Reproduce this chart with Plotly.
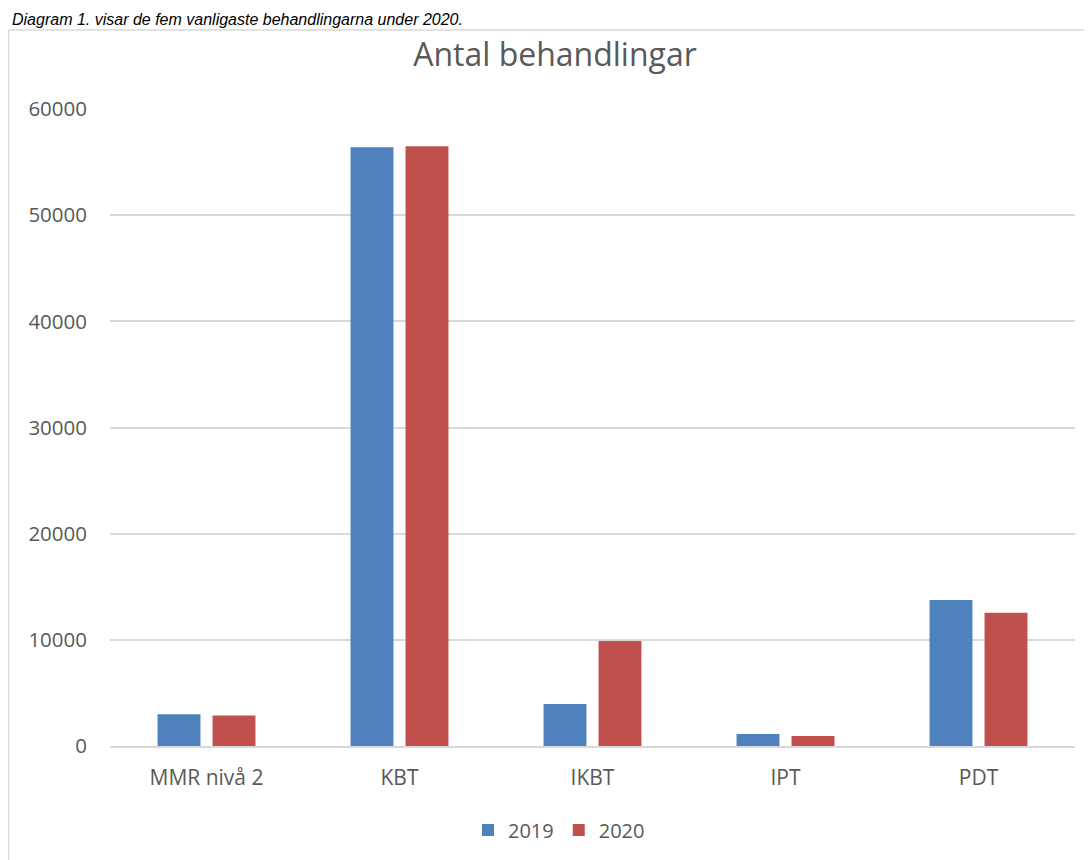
import plotly.graph_objects as go

categories = ["MMR nivå 2", "KBT", "IKBT", "IPT", "PDT"]
series_2019 = [3000, 56400, 3950, 1130, 13750]
series_2020 = [2880, 56500, 9880, 950, 12550]
y_ticks = [0, 10000, 20000, 30000, 40000, 50000, 60000]

# page has an 8px body margin, so the canvas starts at (8, 8) on screen
OFF = 8
W, H = 1092, 860
L, R, T, B = 102, 25, 101, 122
pw = W - L - R
ph = H - T - B

def px2x(px):  # screen px -> paper x
    return (px - OFF - L) / pw

def py2y(py):  # screen px -> paper y
    return (H - B - (py - OFF)) / ph

fig = go.Figure()
fig.add_trace(go.Bar(name="2019", x=categories, y=series_2019, marker_color="#4F81BD",
                     marker_line_width=0))
fig.add_trace(go.Bar(name="2020", x=categories, y=series_2020, marker_color="#C0504D",
                     marker_line_width=0))

font_family = "'Open Sans', Lato, sans-serif"
grey = "#595959"

fig.update_layout(
    width=W, height=H,
    margin=dict(l=L, r=R, t=T, b=B, pad=0),
    paper_bgcolor="white", plot_bgcolor="white",
    barmode="group", bargap=0.43, bargroupgap=0.22,
    title=dict(text="Antal behandlingar", x=px2x(555), xref="paper", xanchor="center",
               yref="container", y=1 - (55 - OFF) / H, yanchor="middle",
               font=dict(family=font_family, size=32, color=grey)),
    font=dict(family=font_family, size=18, color=grey),
    showlegend=True,
    legend=dict(orientation="h", x=px2x(559), xanchor="center", y=py2y(830), yanchor="middle",
                font=dict(family=font_family, size=20, color=grey),
                itemwidth=30, traceorder="normal"),
    xaxis=dict(showline=True, linecolor="#D9D9D9", linewidth=1.5, ticks="",
               tickfont=dict(size=21, color=grey), showgrid=False, ticklabelstandoff=12),
    yaxis=dict(range=[0, 60000], tickvals=y_ticks, ticktext=[str(v) for v in y_ticks],
               showgrid=True, gridcolor="#D9D9D9", gridwidth=1.5, zeroline=False,
               showline=False, ticks="", ticklabelstandoff=22,
               tickfont=dict(size=20.5, color=grey)),
    shapes=[dict(type="rect", xref="paper", yref="paper",
                 x0=px2x(8.5), x1=px2x(1091), y0=py2y(900), y1=py2y(30),
                 line=dict(color="#D9D9D9", width=1.5), fillcolor="rgba(0,0,0,0)", layer="below")],
    annotations=[dict(text="<i>Diagram 1. visar de fem vanligaste behandlingarna under 2020.</i>",
                      xref="paper", yref="paper", x=px2x(10), y=py2y(9), xanchor="left",
                      yanchor="top", showarrow=False,
                      font=dict(family="Liberation Sans, Arial, sans-serif", size=16, color="#000000"))],
)

fig.write_html("out.html")
